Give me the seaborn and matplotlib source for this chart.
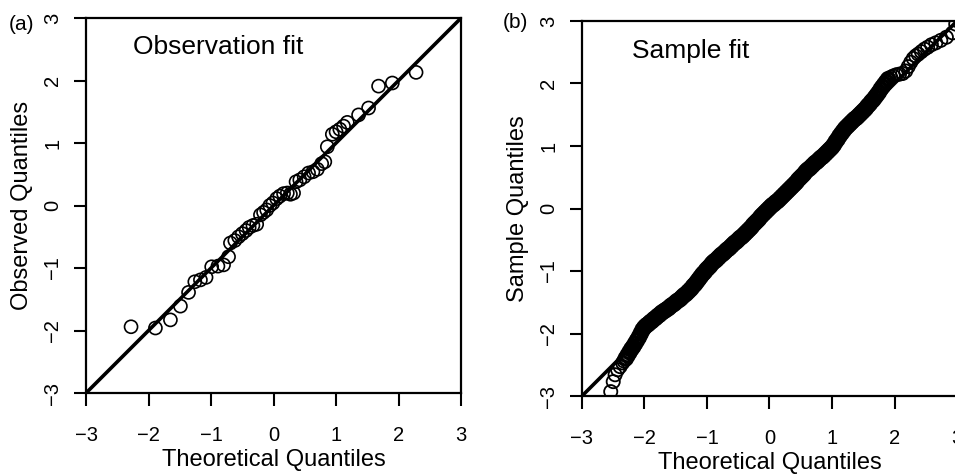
import matplotlib
matplotlib.use("Agg")
import matplotlib.pyplot as plt
import seaborn as sns

# panel (a): observation fit
obs_theoretical = [-2.28, -1.89, -1.65, -1.49, -1.36, -1.26, -1.17, -1.08, -0.99, -0.89,
                   -0.80, -0.72, -0.69, -0.62, -0.56, -0.50, -0.44, -0.39, -0.33, -0.27,
                   -0.21, -0.16, -0.11, -0.06, -0.01, 0.05, 0.10, 0.16, 0.22, 0.27,
                   0.32, 0.36, 0.42, 0.49, 0.56, 0.63, 0.70, 0.77, 0.82, 0.86,
                   0.94, 1.00, 1.06, 1.12, 1.18, 1.36, 1.52, 1.68, 1.90, 2.28]
obs_observed = [-1.94, -1.96, -1.83, -1.61, -1.39, -1.22, -1.19, -1.15, -0.98, -0.97,
                -0.95, -0.82, -0.60, -0.56, -0.50, -0.45, -0.40, -0.35, -0.32, -0.30,
                -0.15, -0.11, -0.07, 0.00, 0.04, 0.11, 0.15, 0.19, 0.20, 0.18,
                0.20, 0.38, 0.41, 0.46, 0.52, 0.54, 0.58, 0.67, 0.70, 0.94,
                1.14, 1.18, 1.22, 1.27, 1.33, 1.45, 1.56, 1.91, 1.96, 2.13]

# panel (b): sample fit
smp_theoretical = [-2.54, -2.50, -2.47, -2.43, -2.39, -2.35, -2.33,
                   -2.30, -2.27, -2.24, -2.21, -2.18, -2.15, -2.12, -2.09, -2.06, -2.03,
                   -2.00, -1.97, -1.94, -1.91, -1.88, -1.85, -1.82, -1.79, -1.76, -1.73,
                   -1.70, -1.67, -1.64, -1.61, -1.58, -1.55, -1.52, -1.49, -1.46, -1.43,
                   -1.40, -1.37, -1.34, -1.31, -1.28, -1.25, -1.22, -1.19, -1.16, -1.13,
                   -1.10, -1.07, -1.04, -1.01, -0.98, -0.95, -0.92, -0.89, -0.86, -0.83,
                   -0.80, -0.77, -0.74, -0.71, -0.68, -0.65, -0.62, -0.59, -0.56, -0.53,
                   -0.50, -0.47, -0.44, -0.41, -0.38, -0.35, -0.32, -0.29, -0.26, -0.23,
                   -0.20, -0.17, -0.14, -0.11, -0.08, -0.05, -0.02, 0.01, 0.04, 0.07,
                   0.10, 0.13, 0.16, 0.19, 0.22, 0.25, 0.28, 0.31, 0.34, 0.37,
                   0.40, 0.43, 0.46, 0.49, 0.52, 0.55, 0.58, 0.61, 0.64, 0.67,
                   0.70, 0.73, 0.76, 0.79, 0.82, 0.85, 0.88, 0.91, 0.94, 0.97,
                   1.00, 1.03, 1.06, 1.09, 1.12, 1.15, 1.18, 1.21, 1.24, 1.27,
                   1.30, 1.33, 1.36, 1.39, 1.42, 1.45, 1.48, 1.51, 1.54, 1.57,
                   1.60, 1.63, 1.66, 1.69, 1.72, 1.75, 1.78, 1.81, 1.84, 1.87,
                   1.90, 1.94, 1.98, 2.03, 2.08, 2.13, 2.18, 2.22, 2.26, 2.30,
                   2.34, 2.38, 2.43, 2.48, 2.53, 2.59, 2.66, 2.74, 2.83, 2.93, 2.98]
smp_sample = [-2.93, -2.77, -2.66, -2.58, -2.53, -2.47, -2.44,
              -2.40, -2.35, -2.30, -2.25, -2.21, -2.16, -2.11, -2.06, -2.00, -1.94,
              -1.90, -1.87, -1.85, -1.82, -1.80, -1.77, -1.75, -1.72, -1.70, -1.67,
              -1.65, -1.63, -1.61, -1.59, -1.56, -1.54, -1.52, -1.49, -1.47, -1.45,
              -1.42, -1.39, -1.37, -1.34, -1.31, -1.28, -1.24, -1.21, -1.17, -1.13,
              -1.09, -1.05, -1.02, -0.98, -0.95, -0.92, -0.88, -0.85, -0.83, -0.80,
              -0.77, -0.74, -0.72, -0.69, -0.66, -0.64, -0.61, -0.58, -0.55, -0.53,
              -0.50, -0.47, -0.45, -0.42, -0.39, -0.36, -0.33, -0.30, -0.26, -0.23,
              -0.20, -0.17, -0.13, -0.10, -0.07, -0.04, -0.01, 0.02, 0.05, 0.07,
              0.10, 0.12, 0.15, 0.18, 0.21, 0.24, 0.27, 0.30, 0.33, 0.36,
              0.39, 0.42, 0.46, 0.49, 0.52, 0.55, 0.59, 0.62, 0.64, 0.67,
              0.70, 0.73, 0.75, 0.78, 0.81, 0.83, 0.86, 0.89, 0.92, 0.95,
              0.98, 1.02, 1.07, 1.11, 1.16, 1.20, 1.24, 1.28, 1.31, 1.34,
              1.37, 1.40, 1.43, 1.45, 1.48, 1.51, 1.54, 1.57, 1.60, 1.64,
              1.67, 1.71, 1.74, 1.78, 1.82, 1.86, 1.91, 1.95, 1.99, 2.03,
              2.07, 2.10, 2.12, 2.14, 2.15, 2.16, 2.20, 2.27, 2.34, 2.40,
              2.44, 2.47, 2.51, 2.55, 2.58, 2.62, 2.65, 2.69, 2.74, 2.81, 2.95]

ticks = [-3, -2, -1, 0, 1, 2, 3]

sns.set_theme(style="ticks")
plt.rcParams["font.family"] = ["Liberation Sans", "DejaVu Sans"]
plt.rcParams["text.color"] = "black"
plt.rcParams["axes.labelcolor"] = "black"


def draw_qq(ax, x, y, size, lw, ylabel, note, note_xy):
    sns.scatterplot(x=x, y=y, ax=ax, s=size, marker="o", facecolor="none",
                    edgecolor="black", linewidth=lw, zorder=3)
    ax.axline((0, 0), slope=1, color="black", lw=2.6, zorder=2)
    ax.set_xlim(-3, 3)
    ax.set_ylim(-3, 3)
    ax.set_xticks(ticks)
    ax.set_yticks(ticks)
    for spine in ax.spines.values():
        spine.set_visible(True)
        spine.set_linewidth(1.6)
        spine.set_color("black")
    ax.tick_params(length=9, width=1.5, colors="black", labelsize=14.5)
    ax.tick_params(axis="x", pad=15)
    ax.tick_params(axis="y", pad=8, labelrotation=90)
    for lab in ax.get_yticklabels():
        lab.set_va("center")
    ax.set_xlabel("Theoretical Quantiles", fontsize=17)
    ax.set_ylabel(ylabel, fontsize=17)
    ax.xaxis.set_label_coords(0.5, -0.179)
    ax.xaxis.label.set_va("center")
    ax.yaxis.set_label_coords(-0.171, 0.5)
    ax.yaxis.label.set_va("center")
    ax.text(note_xy[0], note_xy[1], note, fontsize=19, ha="left", va="center")


fig = plt.figure(figsize=(9.55, 4.75), dpi=100)
ax_a = fig.add_axes([0.0901, 0.1726, 0.3927, 0.7895])
ax_b = fig.add_axes([0.6094, 0.1663, 0.3927, 0.7895])

# heavy overlap in the dense middle of the sample fit reads as a solid band
smp_lw = [2.4 if -2.3 <= v <= 1.9 else 1.3 for v in smp_theoretical]

draw_qq(ax_a, obs_theoretical, obs_observed, 88, 1.2, "Observed Quantiles",
        "Observation fit", (-2.25, 2.54))
draw_qq(ax_b, smp_theoretical, smp_sample, 90, smp_lw, "Sample Quantiles",
        "Sample fit", (-2.2, 2.52))

fig.text(21 / 955, 1 - 25 / 475, "(a)", fontsize=15, ha="center", va="center")
fig.text(515 / 955, 1 - 22 / 475, "(b)", fontsize=15, ha="center", va="center")

fig.savefig("out.png", dpi=100)
